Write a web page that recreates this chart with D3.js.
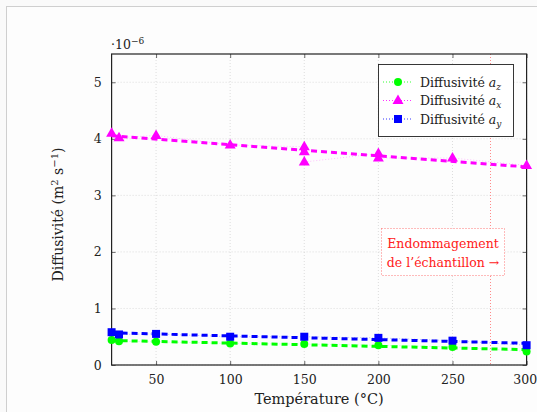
<!DOCTYPE html>
<html><head><meta charset="utf-8">
<script src="https://cdn.jsdelivr.net/npm/d3@7"></script>
<style>
html,body{margin:0;padding:0;background:#fafafa;}
svg{display:block;font-family:"DejaVu Serif",serif;}
</style></head>
<body><svg id="c" width="537" height="412"></svg>
<script>
// Data (values ×10^-6 m²/s)
const tempsZ = [20, 25, 50, 100, 150, 200, 250, 300];
const valuesZ = [0.44, 0.42, 0.41, 0.38, 0.37, 0.35, 0.32, 0.24];
const tempsX = [20, 25, 50, 100, 150, 150, 150, 200, 200, 250, 300];
const valuesX = [4.10, 4.02, 4.06, 3.89, 3.86, 3.77, 3.59, 3.74, 3.66, 3.66, 3.53];
const tempsY = [20, 25, 50, 100, 150, 200, 250, 300];
const valuesY = [0.58, 0.54, 0.55, 0.50, 0.50, 0.48, 0.43, 0.35];
const xTicks = [50, 100, 150, 200, 250, 300];
const yTicks = [0, 1, 2, 3, 4, 5];
const damageTemp = 275;

const series = [
  {name:"z", t:tempsZ, v:valuesZ, color:"#00ff00", mark:"circle"},
  {name:"x", t:tempsX, v:valuesX, color:"#ff00ff", mark:"triangle"},
  {name:"y", t:tempsY, v:valuesY, color:"#0000ff", mark:"square"}
];

const svg = d3.select("#c");
svg.append("rect").attr("x",6.5).attr("y",6.5).attr("width",540).attr("height",420)
  .attr("fill","#fdfdfd").attr("stroke","#cfcfcf");

const L=111.6, R=526.6, T=54, B=365;
const x = d3.scaleLinear().domain([20,300]).range([L,R]);
const y = d3.scaleLinear().domain([0,5.5]).range([B,T]);

// grid
const g = svg.append("g");
g.selectAll(".gx").data(xTicks).join("line")
  .attr("x1",d=>x(d)).attr("x2",d=>x(d)).attr("y1",T).attr("y2",B)
  .attr("stroke","#c8c8c8").attr("stroke-width",0.6).attr("stroke-dasharray","1,2");
g.selectAll(".gy").data(yTicks).join("line")
  .attr("x1",L).attr("x2",R).attr("y1",d=>y(d)).attr("y2",d=>y(d))
  .attr("stroke","#c8c8c8").attr("stroke-width",0.6).attr("stroke-dasharray","1,2");

// damage line
const dx = Math.round(x(damageTemp)) + 0.5;
svg.append("line").attr("x1",dx).attr("x2",dx).attr("y1",T).attr("y2",B)
  .attr("stroke","#ff8a8a").attr("stroke-width",1).attr("stroke-dasharray","1,2");

// axes
const ax = svg.append("g").attr("transform",`translate(0,${B})`)
  .call(d3.axisBottom(x).tickValues(xTicks).tickSize(-4).tickPadding(10).tickFormat(d3.format("d")));
const axT = svg.append("g").attr("transform",`translate(0,${T})`)
  .call(d3.axisTop(x).tickValues(xTicks).tickSize(-4).tickFormat(""));
const ay = svg.append("g").attr("transform",`translate(${L},0)`)
  .call(d3.axisLeft(y).tickValues(yTicks).tickSize(-4).tickPadding(10).tickFormat(d3.format("d")));
const ayR = svg.append("g").attr("transform",`translate(${R},0)`)
  .call(d3.axisRight(y).tickValues(yTicks).tickSize(-4).tickFormat(""));
[ax,axT,ay,ayR].forEach(a=>{
  a.select(".domain").remove();
  a.selectAll(".tick line").attr("stroke","#444").attr("stroke-width",0.8);
  a.selectAll("text").attr("font-family","DejaVu Serif").attr("font-size",12.5).attr("fill","#222");
});
ax.selectAll(".tick").filter(d=>d===300).select("text").attr("text-anchor","end").attr("dx",10);
svg.append("rect").attr("x",L).attr("y",T).attr("width",R-L).attr("height",B-T)
  .attr("fill","none").attr("stroke","#222").attr("stroke-width",1.2);

// regression lines
function fit(t,v){
  const n=t.length, mx=d3.mean(t), my=d3.mean(v);
  let sxy=0,sxx=0; for(let i=0;i<n;i++){sxy+=(t[i]-mx)*(v[i]-my); sxx+=(t[i]-mx)**2;}
  const b=sxy/sxx, a=my-b*mx; return t0=>a+b*t0;
}
const plot = svg.append("g");
series.forEach(s=>{
  const f = fit(s.t,s.v);
  plot.append("line").attr("x1",x(20)).attr("x2",x(300)).attr("y1",y(f(20))).attr("y2",y(f(300)))
    .attr("stroke",s.color).attr("stroke-width",3).attr("stroke-dasharray","6,4");
  const pts = s.t.map((t,i)=>[t,s.v[i]]);
  plot.append("path").attr("d",d3.line().x(d=>x(d[0])).y(d=>y(d[1]))(pts))
    .attr("fill","none").attr("stroke",s.color).attr("stroke-width",0.7).attr("stroke-dasharray","1,2").attr("opacity",0.35);
});
function marker(sel,type,color,cx,cy){
  if(type==="circle") sel.append("circle").attr("cx",cx).attr("cy",cy).attr("r",4).attr("fill",color);
  else if(type==="square") sel.append("rect").attr("x",cx-4).attr("y",cy-4).attr("width",8).attr("height",8).attr("fill",color);
  else sel.append("path").attr("d",`M${cx},${cy-6}L${cx+5.5},${cy+3.5}L${cx-5.5},${cy+3.5}Z`).attr("fill",color);
}
series.forEach(s=>{
  s.t.forEach((t,i)=>marker(plot,s.mark,s.color,x(t),y(s.v[i])));
});

// legend
const lg = svg.append("g");
lg.append("rect").attr("x",378.5).attr("y",64.5).attr("width",135).attr("height",72)
  .attr("fill","#fff").attr("stroke","#222").attr("stroke-width",0.9);
series.forEach((s,i)=>{
  const yy = 82 + i*18.5;
  lg.append("line").attr("x1",383).attr("x2",413).attr("y1",yy).attr("y2",yy)
    .attr("stroke",s.color).attr("stroke-width",0.8).attr("stroke-dasharray","1,2");
  marker(lg,s.mark,s.color,398,yy);
  const tx = lg.append("text").attr("x",420).attr("y",yy+4.5).attr("font-size",12.5).attr("fill","#222");
  tx.append("tspan").text("Diffusivité ");
  tx.append("tspan").attr("font-style","italic").text("a");
  tx.append("tspan").attr("font-style","italic").attr("font-size",9).attr("dy",3).text(s.name);
});

// annotation
svg.append("rect").attr("x",381.5).attr("y",228.5).attr("width",123).attr("height",47)
  .attr("fill","#fff").attr("stroke","#ff5555").attr("stroke-width",0.8).attr("stroke-dasharray","1,2");
svg.append("text").attr("x",443).attr("y",248).attr("text-anchor","middle").attr("font-size",12.5)
  .attr("fill","#ff2020").text("Endommagement");
svg.append("text").attr("x",443).attr("y",267).attr("text-anchor","middle").attr("font-size",12.5)
  .attr("fill","#ff2020").text("de l’échantillon →");

// exponent
const ex = svg.append("text").attr("x",111).attr("y",49).attr("font-size",12.5).attr("fill","#222");
ex.append("tspan").text("·10");
ex.append("tspan").attr("font-size",9).attr("dy",-5).text("−6");

// axis titles
svg.append("text").attr("x",(L+R)/2).attr("y",404).attr("text-anchor","middle").attr("font-size",14.5)
  .attr("fill","#222").text("Température (°C)");
const yl = svg.append("text").attr("transform",`translate(63,${(T+B)/2+5}) rotate(-90)`)
  .attr("text-anchor","middle").attr("font-size",14).attr("fill","#222");
yl.append("tspan").text("Diffusivité (m");
yl.append("tspan").attr("font-size",10).attr("dy",-5).text("2");
yl.append("tspan").attr("dy",5).text(" s");
yl.append("tspan").attr("font-size",10).attr("dy",-5).text("−1");
yl.append("tspan").attr("dy",5).text(")");
</script></body></html>
